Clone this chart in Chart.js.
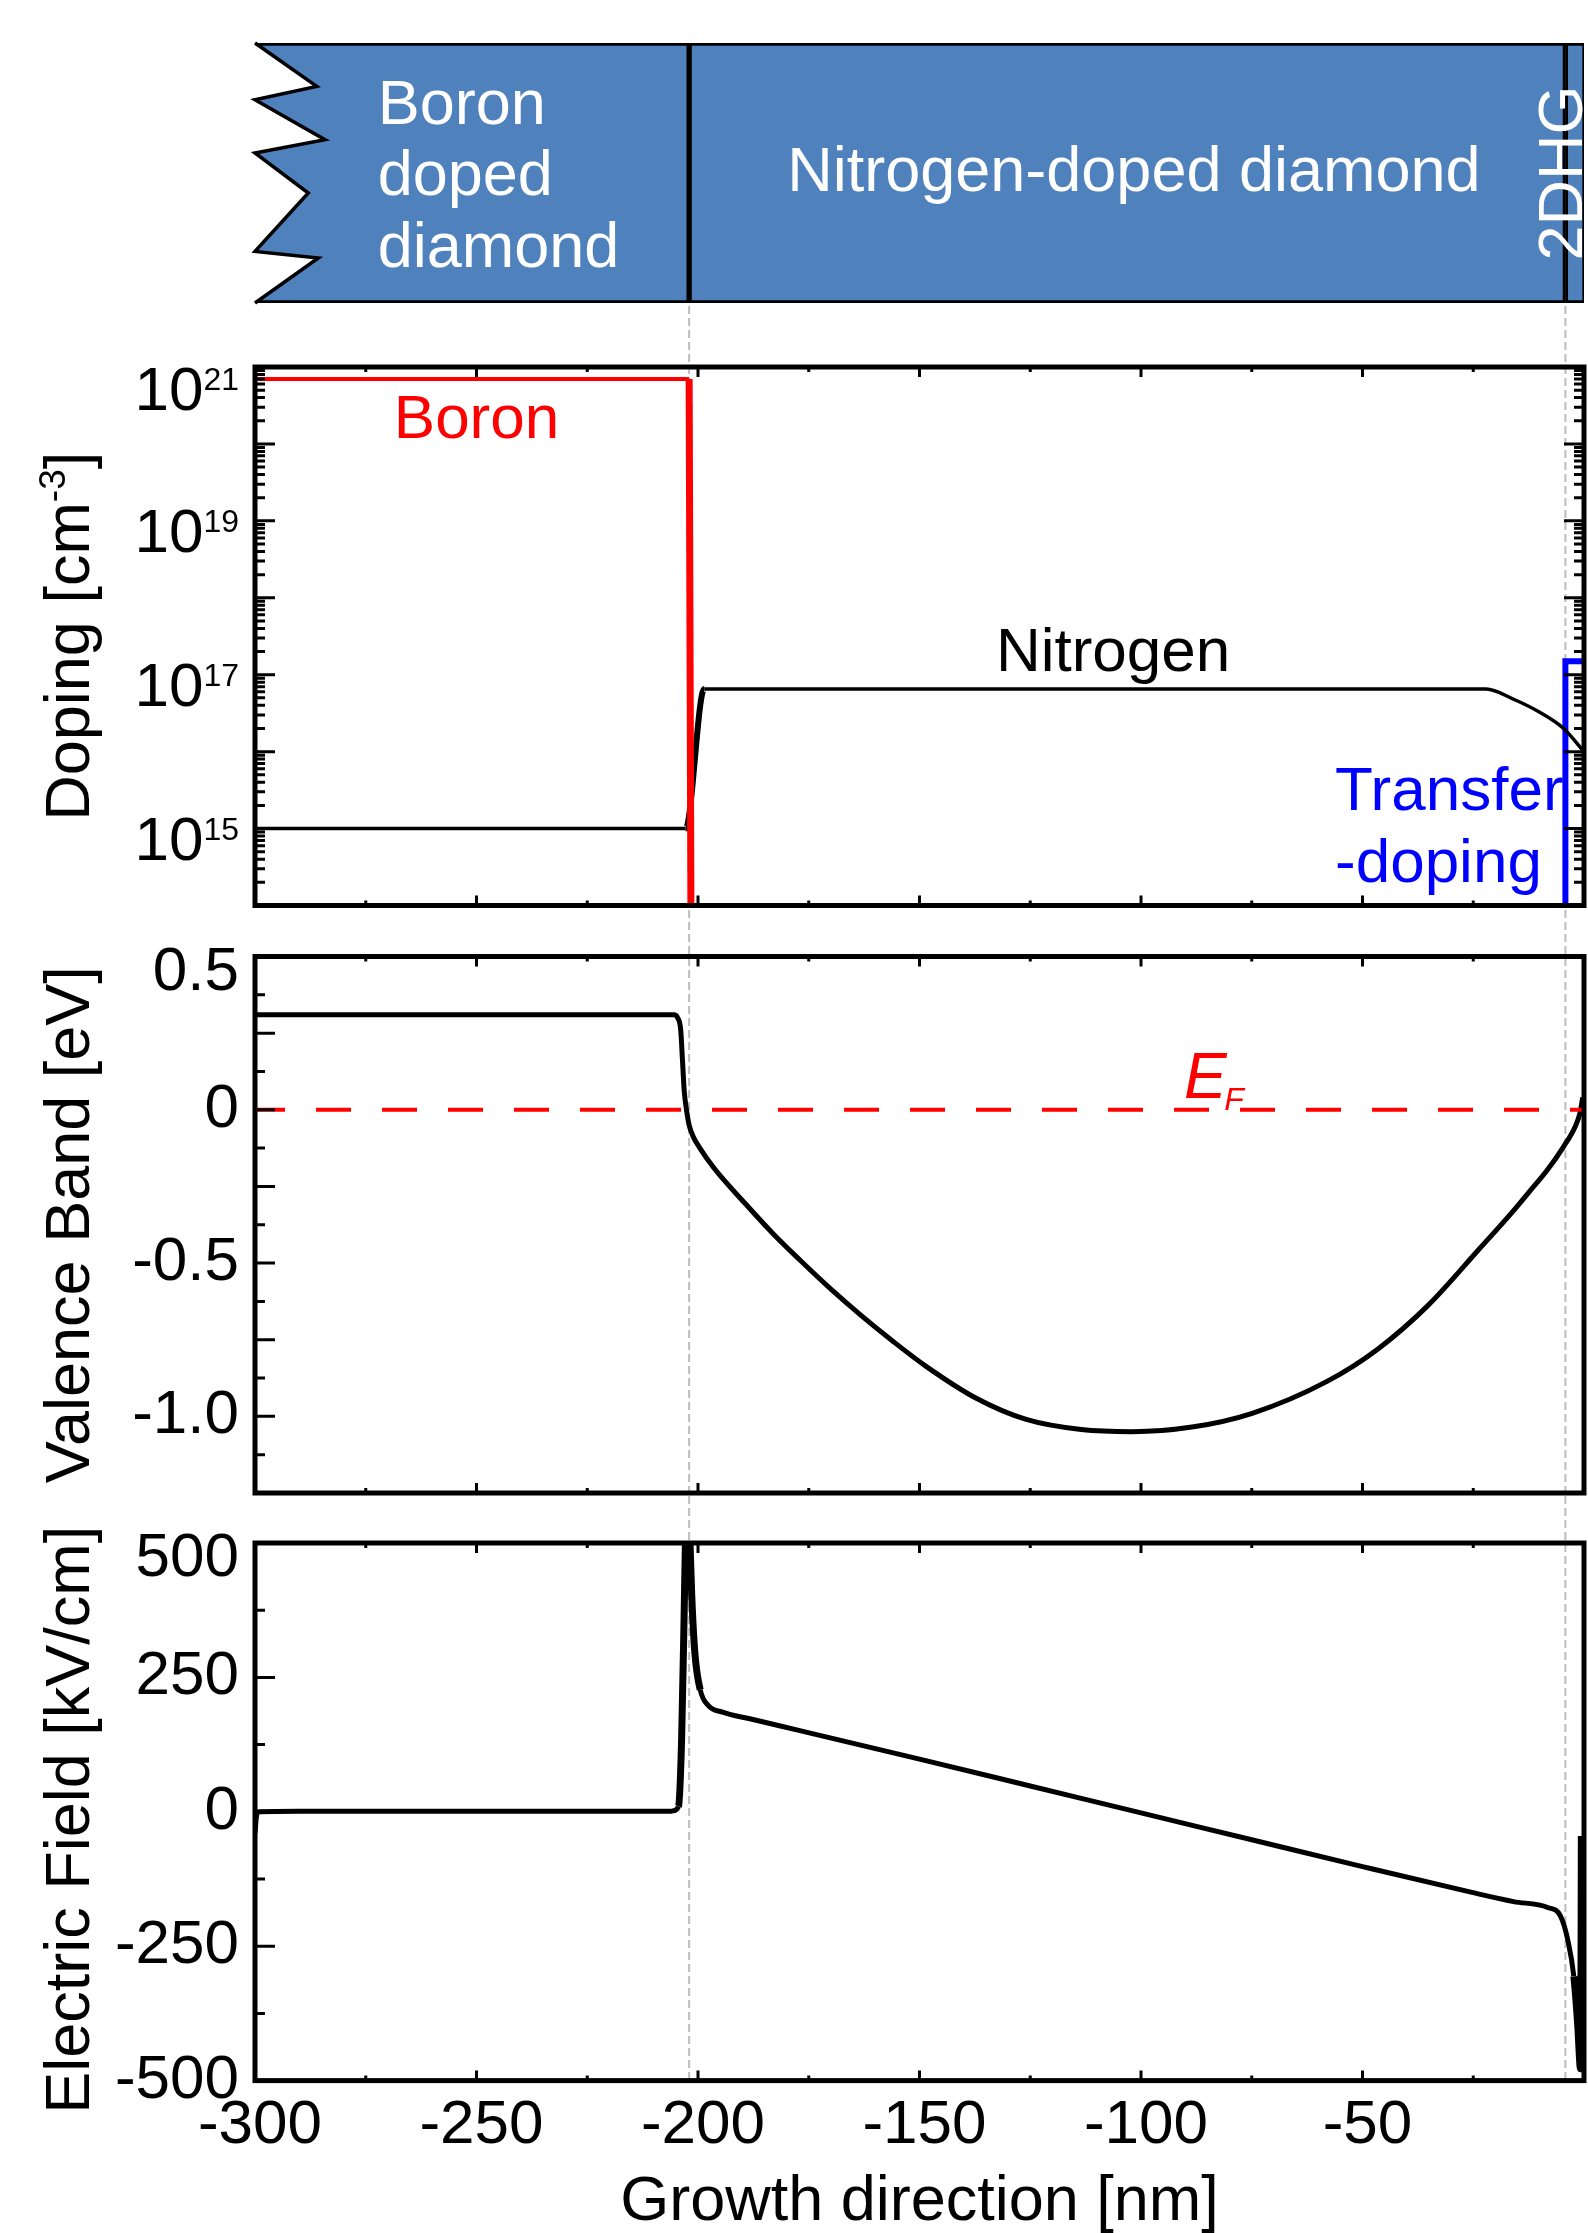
<!DOCTYPE html>
<html>
<head>
<meta charset="utf-8">
<script src="https://cdn.jsdelivr.net/npm/chart.js@4.4.1/dist/chart.umd.min.js"></script>
<style>
  html, body { margin: 0; padding: 0; background: #fff; }
  #figure { position: relative; width: 1588px; height: 2233px; background: #fff; overflow: hidden; }
  #figure canvas { position: absolute; left: 0; }
</style>
</head>
<body>
<div id="figure">
  <canvas id="layers" width="1588" height="306" style="top:0px"></canvas>
  <canvas id="doping" width="1588" height="604" style="top:306px"></canvas>
  <canvas id="band" width="1588" height="586" style="top:910px"></canvas>
  <canvas id="field" width="1588" height="737" style="top:1496px"></canvas>
</div>
<script>
// общая ось X (нм)
const xMin = -300, xMax = 0;
const xTickValues = [-300, -250, -200, -150, -100, -50];
const xTickLabels = ['-300', '-250', '-200', '-150', '-100', '-50'];
const xMajorTicks = [-300, -250, -200, -150, -100, -50, 0];
const xMinorTicks = [-275, -225, -175, -125, -75, -25];
const interfaces = [-202, -4.2];

// слои структуры
const layerNames = ['Boron doped diamond', 'Nitrogen-doped diamond', '2DHG'];
const layerStart = [-300, -202, -4.2];
const layerEnd = [-202, -4.2, 0];

// легирование, см^-3
const boronX = [-300, -202.0, -201.6];
const boronY = [7e20, 7e20, 1e14];
const nitrogenX = [-300, -202.8, -198.6, -22.1, -15.9, -10.2, -4.6, 0];
const nitrogenY = [1e15, 1e15, 6.5e16, 6.5e16, 4.8e16, 3.3e16, 2.0e16, 1.0e16];
const transferX = [-4.2, -4.2, 0];
const transferY = [1e14, 1.5e17, 1.5e17];
const dopingDecades = [15, 17, 19, 21];

// валентная зона, эВ
const bandX = [-300, -250, -205.4, -204.6, -203.9, -203.5, -203.1, -202.6, -202.0, -201.0, -199.8, -196.4,
  -189.4, -183, -177, -170, -163.4, -156, -148.6, -137.3, -125.9, -113.5, -102.1, -88.5, -74.9, -57.9,
  -46.5, -35.2, -23.7, -15.8, -12.5, -8.2, -4.6, -2.0, -0.9, -0.3];
const bandY = [0.31, 0.31, 0.31, 0.30, 0.26, 0.16, 0.06, 0.0, -0.05, -0.09, -0.12, -0.19,
  -0.305, -0.405, -0.49, -0.585, -0.668, -0.755, -0.836, -0.94, -1.01, -1.043, -1.05, -1.035, -0.99, -0.885,
  -0.78, -0.638, -0.455, -0.327, -0.27, -0.195, -0.12, -0.055, -0.01, 0.04];
const fermiX = [-300, 0];
const fermiY = [0, 0];
const bandTickValues = [0.5, 0, -0.5, -1.0];
const bandTickLabels = ['0.5', '0', '-0.5', '-1.0'];
const bandMajorTicks = [0.25, 0, -0.25, -0.5, -0.75, -1.0];
const bandMinorTicks = [0.375, 0.125, -0.125, -0.375, -0.625, -0.875, -1.125];

// электрическое поле, кВ/см
const fieldX = [-300, -299.7, -299.2, -290, -250, -206, -205.6, -204.4, -203.7, -203.1, -202.8, -202.2,
  -201.8, -201.4, -200.7, -199.5, -197.7, -194.3, -188.3, -177, -150, -125, -100, -75, -50,
  -25.3, -15.9, -8.2, -5.3, -3.7, -2.3, -1.4, -0.9, -0.75, -0.6];
const fieldY = [-40, -10, 0, 1, 1, 1, 2, 10, 134, 380, 520, 600,
  500, 400, 295, 227, 198, 185, 173, 151, 98, 48, -2, -52, -102,
  -150, -167, -178, -194, -237, -306, -399, -473, -478, -45];
const fieldTickValues = [500, 250, 0, -250, -500];
const fieldTickLabels = ['500', '250', '0', '-250', '-500'];
const fieldMajorTicks = [250, 0, -250];
const fieldMinorTicks = [375, 125, -125, -375];

const FONT = '"Liberation Sans", Arial, Helvetica, sans-serif';
Chart.defaults.font.family = FONT;
Chart.defaults.color = '#000';

function pts(xs, ys) {
  return xs.map((x, i) => ({ x: x, y: ys[i] }));
}

function baseOptions(padding) {
  return {
    responsive: false,
    animation: false,
    devicePixelRatio: 1,
    events: [],
    layout: { padding: padding },
    plugins: { legend: { display: false }, tooltip: { enabled: false } }
  };
}

function labelCallback(values, labels, max) {
  return function(value) {
    const i = values.findIndex(v => Math.abs(v - value) < 1e-9);
    if (i < 0) return '';
    // верхняя подпись сдвинута вниз, как на оригинале
    return Math.abs(value - max) < 1e-9 ? ['', labels[i]] : labels[i];
  };
}

function fixWidth(w) {
  return function(s) {
    s.width = w;
    s.paddingTop = 0;
    s.paddingBottom = 0;
  };
}

function drawVerticalTitle(ctx, parts, bx, cy) {
  ctx.save();
  ctx.fillStyle = '#000';
  ctx.textAlign = 'left';
  ctx.textBaseline = 'alphabetic';
  let total = 0;
  const widths = parts.map(p => {
    ctx.font = p.size + 'px ' + FONT;
    const w = ctx.measureText(p.text).width;
    total += w;
    return w;
  });
  ctx.translate(bx, cy);
  ctx.rotate(-Math.PI / 2);
  let x = -total / 2;
  parts.forEach((p, i) => {
    ctx.font = p.size + 'px ' + FONT;
    ctx.fillText(p.text, x, -(p.raise || 0));
    x += widths[i];
  });
  ctx.restore();
}

// рамка, внутренние засечки, пунктиры границ слоёв
function axesPlugin(spec) {
  return {
    id: 'axes',
    beforeDatasetsDraw(chart) {
      const { ctx, chartArea } = chart;
      const xs = chart.scales.x;
      ctx.save();
      ctx.strokeStyle = '#bdbdbd';
      ctx.lineWidth = 2;
      ctx.setLineDash([8, 4]);
      interfaces.forEach(v => {
        const px = xs.getPixelForValue(v);
        ctx.beginPath();
        ctx.moveTo(px, 0);
        ctx.lineTo(px, chartArea.bottom);
        ctx.stroke();
      });
      ctx.restore();
      if (spec.under) spec.under(chart);
    },
    afterDraw(chart) {
      const { ctx, chartArea: a } = chart;
      const xs = chart.scales.x, ys = chart.scales.y;
      ctx.save();
      ctx.strokeStyle = '#000';
      ctx.lineWidth = 3;
      ctx.beginPath();
      const xt = (vals, len) => vals.forEach(v => {
        const px = xs.getPixelForValue(v);
        ctx.moveTo(px, a.bottom); ctx.lineTo(px, a.bottom - len);
        ctx.moveTo(px, a.top); ctx.lineTo(px, a.top + len);
      });
      const yt = (vals, len) => vals.forEach(v => {
        const py = ys.getPixelForValue(v);
        ctx.moveTo(a.left, py); ctx.lineTo(a.left + len, py);
        if (spec.rightTicks) { ctx.moveTo(a.right, py); ctx.lineTo(a.right - len, py); }
      });
      xt(xMajorTicks, 10);
      xt(xMinorTicks, 5);
      yt(spec.yMajor, 20);
      yt(spec.yMinor, 10);
      ctx.stroke();
      ctx.lineWidth = 5;
      ctx.strokeRect(a.left, a.top, a.right - a.left, a.bottom - a.top);
      ctx.restore();
      drawVerticalTitle(ctx, spec.title, 89, (a.top + a.bottom) / 2 + (spec.titleShift || 0));
      if (spec.over) spec.over(chart);
    }
  };
}

// ---- схема слоёв ----
const zigzag = [[0, 0], [61.7, 43.4], [0, 56.7], [70, 96.7], [0, 110], [53.3, 150], [0, 208.4], [63.3, 215], [0, 260]];
const layerBorders = [
  { top: 3, bottom: 3, left: 0, right: 3 },
  { top: 3, bottom: 3, left: 3, right: 3 },
  { top: 3, bottom: 3, left: 3, right: 2 }
];

const layerPlugin = {
  id: 'layerText',
  afterDatasetsDraw(chart) {
    const { ctx, chartArea: a } = chart;
    const xs = chart.scales.x;
    ctx.save();
    ctx.beginPath();
    zigzag.forEach((p, i) => {
      const px = a.left + p[0], py = a.top + p[1];
      if (i) ctx.lineTo(px, py); else ctx.moveTo(px, py);
    });
    ctx.closePath();
    ctx.fillStyle = '#fff';
    ctx.fill();
    ctx.beginPath();
    zigzag.forEach((p, i) => {
      const px = a.left + p[0], py = a.top + p[1];
      if (i) ctx.lineTo(px, py); else ctx.moveTo(px, py);
    });
    ctx.strokeStyle = '#000';
    ctx.lineWidth = 3.5;
    ctx.miterLimit = 4;
    ctx.stroke();

    ctx.fillStyle = '#fff';
    ctx.font = '63px ' + FONT;
    ctx.textBaseline = 'alphabetic';
    ctx.textAlign = 'left';
    layerNames[0].split(' ').forEach((t, i) => {
      ctx.fillText(t, xs.getPixelForValue(-272.3), a.top + 81 + i * 71.3);
    });
    ctx.textAlign = 'center';
    ctx.fillText(layerNames[1], xs.getPixelForValue(-101.6), a.top + 147.7);
    ctx.translate(a.right - 2, a.top + 130);
    ctx.rotate(-Math.PI / 2);
    ctx.fillText(layerNames[2], 0, 0);
    ctx.restore();
  }
};

new Chart(document.getElementById('layers'), {
  type: 'bar',
  data: {
    labels: ['layers'],
    datasets: layerNames.map((name, i) => ({
      label: name,
      data: [[layerStart[i], layerEnd[i]]],
      backgroundColor: '#4f81bd',
      borderColor: '#000',
      borderWidth: layerBorders[i],
      borderSkipped: false,
      barPercentage: 1,
      categoryPercentage: 1,
      grouped: false
    }))
  },
  options: Object.assign(baseOptions({ left: 255, right: 4, top: 43, bottom: 3 }), {
    indexAxis: 'y',
    scales: {
      x: { type: 'linear', min: xMin, max: xMax, display: false },
      y: { display: false }
    }
  }),
  plugins: [layerPlugin]
});

// ---- легирование ----
new Chart(document.getElementById('doping'), {
  type: 'line',
  data: {
    datasets: [
      {
        label: 'Boron', data: pts(boronX, boronY), borderColor: '#ff0000', borderWidth: 4, pointRadius: 0,
        segment: { borderWidth: c => (c.p0DataIndex === 1 ? 7 : 4) }
      },
      {
        label: 'Nitrogen', data: pts(nitrogenX, nitrogenY), borderColor: '#000', borderWidth: 3.5, pointRadius: 0,
        cubicInterpolationMode: 'monotone',
        segment: { borderWidth: c => (c.p0DataIndex === 1 ? 6 : 3.5) }
      },
      {
        label: 'Transfer-doping', data: pts(transferX, transferY), borderColor: '#0000ff', borderWidth: 6, pointRadius: 0
      }
    ]
  },
  options: Object.assign(baseOptions({ left: 0, right: 4, top: 61, bottom: 4.5 }), {
    scales: {
      x: { type: 'linear', min: xMin, max: xMax, display: false },
      y: {
        type: 'logarithmic', min: 1e14, max: 1e21,
        afterFit: fixWidth(255),
        grid: { display: false }, border: { display: false },
        ticks: { display: false }
      }
    }
  }),
  plugins: [axesPlugin({
    rightTicks: true,
    yMajor: [1e14, 1e15, 1e16, 1e17, 1e18, 1e19, 1e20, 1e21],
    yMinor: [14, 15, 16, 17, 18, 19, 20].flatMap(e => [2, 3, 4, 5, 6, 7, 8, 9].map(k => k * Math.pow(10, e))),
    title: [{ text: 'Doping [cm', size: 63 }, { text: '-3', size: 37, raise: 24 }, { text: ']', size: 63 }],
    under(chart) {
      const { ctx } = chart;
      const xs = chart.scales.x, ys = chart.scales.y;
      ctx.save();
      ctx.font = '62px ' + FONT;
      ctx.textBaseline = 'alphabetic';
      ctx.textAlign = 'center';
      ctx.fillStyle = '#ff0000';
      ctx.fillText('Boron', xs.getPixelForValue(-250), ys.getPixelForValue(1.2e20));
      ctx.fillStyle = '#000';
      ctx.fillText('Nitrogen', xs.getPixelForValue(-106.3), ys.getPixelForValue(1.12e17));
      ctx.textAlign = 'left';
      ctx.fillStyle = '#0000ff';
      ctx.fillText('Transfer', xs.getPixelForValue(-56.2), ys.getPixelForValue(1.74e15));
      ctx.fillText('-doping', xs.getPixelForValue(-56.2), ys.getPixelForValue(2.0e14));
      ctx.restore();
    },
    over(chart) {
      const { ctx, chartArea: a } = chart;
      const ys = chart.scales.y;
      ctx.save();
      ctx.fillStyle = '#000';
      ctx.textAlign = 'right';
      ctx.textBaseline = 'alphabetic';
      const right = a.left - 16;
      dopingDecades.forEach(e => {
        const py = ys.getPixelForValue(Math.pow(10, e));
        const base = py + 31 + (e === 21 ? 12 : 0);
        ctx.font = '32px ' + FONT;
        ctx.fillText(String(e), right, base - 20);
        const w = ctx.measureText(String(e)).width;
        ctx.font = '62px ' + FONT;
        ctx.fillText('10', right - w, base);
      });
      ctx.restore();
    }
  })]
});

// ---- валентная зона ----
new Chart(document.getElementById('band'), {
  type: 'line',
  data: {
    datasets: [
      {
        label: 'EF', data: pts(fermiX, fermiY), borderColor: '#ff0000', borderWidth: 4,
        borderDash: [35, 31], borderDashOffset: 5, pointRadius: 0
      },
      {
        label: 'Valence band', data: pts(bandX, bandY), borderColor: '#000', borderWidth: 5, pointRadius: 0,
        cubicInterpolationMode: 'monotone'
      }
    ]
  },
  options: Object.assign(baseOptions({ left: 0, right: 4, top: 46.5, bottom: 3 }), {
    scales: {
      x: { type: 'linear', min: xMin, max: xMax, display: false },
      y: {
        type: 'linear', min: -1.25, max: 0.5,
        afterFit: fixWidth(255),
        grid: { display: false, drawTicks: false }, border: { display: false },
        ticks: {
          stepSize: 0.25, autoSkip: false, padding: 16, color: '#000',
          font: { size: 62, lineHeight: '32px' },
          callback: labelCallback(bandTickValues, bandTickLabels, 0.5)
        }
      }
    }
  }),
  plugins: [axesPlugin({
    yMajor: bandMajorTicks,
    yMinor: bandMinorTicks,
    title: [{ text: 'Valence Band [eV]', size: 63 }],
    over(chart) {
      const { ctx } = chart;
      const xs = chart.scales.x, ys = chart.scales.y;
      ctx.save();
      ctx.fillStyle = '#ff0000';
      ctx.textAlign = 'left';
      ctx.textBaseline = 'alphabetic';
      ctx.font = 'italic 64px ' + FONT;
      ctx.fillText('E', xs.getPixelForValue(-90.3), ys.getPixelForValue(0.039));
      ctx.font = 'italic 32px ' + FONT;
      ctx.fillText('F', xs.getPixelForValue(-81.2), ys.getPixelForValue(-0.002));
      ctx.restore();
    }
  })]
});

// ---- электрическое поле ----
new Chart(document.getElementById('field'), {
  type: 'line',
  data: {
    datasets: [{
      label: 'Electric field', data: pts(fieldX, fieldY), borderColor: '#000', borderWidth: 5, pointRadius: 0,
      cubicInterpolationMode: 'monotone',
      segment: { borderWidth: c => (c.p0.parsed.x > -3 || (c.p0.parsed.x > -205 && c.p0.parsed.x < -199.6) ? 7 : 5) }
    }]
  },
  options: Object.assign(baseOptions({ left: 0, right: 4, top: 47, bottom: 0 }), {
    scales: {
      x: {
        type: 'linear', min: xMin, max: xMax,
        afterFit(s) { s.height = 152.4; s.paddingLeft = 0; s.paddingRight = 0; },
        grid: { display: false, drawTicks: false }, border: { display: false },
        ticks: {
          stepSize: 50, autoSkip: false, maxRotation: 0, padding: 8, labelOffset: 5, color: '#000',
          font: { size: 62 },
          callback: labelCallback(xTickValues, xTickLabels, 999)
        },
        title: {
          display: true, text: 'Growth direction [nm]', color: '#000',
          font: { size: 63, lineHeight: 0.8 }, padding: { top: 0, bottom: 5 }
        }
      },
      y: {
        type: 'linear', min: -500, max: 500,
        afterFit: fixWidth(255),
        grid: { display: false, drawTicks: false }, border: { display: false },
        ticks: {
          stepSize: 125, autoSkip: false, padding: 16, color: '#000',
          font: { size: 62, lineHeight: '32px' },
          callback: labelCallback(fieldTickValues, fieldTickLabels, 500)
        }
      }
    }
  }),
  plugins: [axesPlugin({
    yMajor: fieldMajorTicks,
    yMinor: fieldMinorTicks,
    titleShift: 8,
    title: [{ text: 'Electric Field [kV/cm]', size: 63 }]
  })]
});
</script>
</body>
</html>
